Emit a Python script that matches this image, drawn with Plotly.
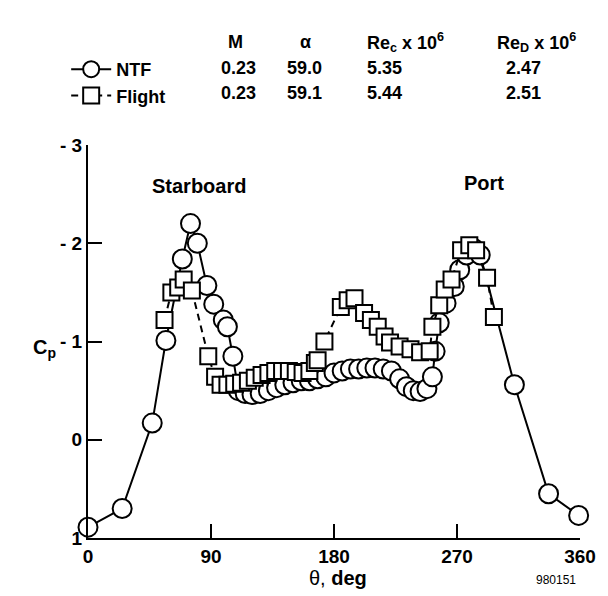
import plotly.graph_objects as go

# NTF (circles, solid)
ntf_theta = [0, 25, 47, 57, 69, 75, 80, 87, 92, 99, 102, 106, 110, 115, 120, 126,
             132, 138, 144, 150, 156, 162, 168, 174, 180, 186, 192, 198, 204, 210,
             216, 222, 228, 233, 238, 243, 248, 252, 254, 257, 262, 268, 272, 277,
             282, 287, 312, 337, 359]
ntf_cp = [0.89, 0.70, -0.17, -1.01, -1.84, -2.20, -2.00, -1.57, -1.38, -1.22, -1.15,
          -0.85, -0.50, -0.47, -0.46, -0.47, -0.50, -0.53, -0.56, -0.58, -0.60, -0.60,
          -0.62, -0.64, -0.68, -0.70, -0.72, -0.72, -0.73, -0.73, -0.72, -0.70, -0.62,
          -0.54, -0.50, -0.49, -0.52, -0.64, -0.90, -1.19, -1.39, -1.56, -1.73, -1.88,
          -1.95, -1.88, -0.56, 0.55, 0.77]

# Flight (squares, dashed)
flt_theta = [56, 61, 66, 70, 76, 88, 93, 97, 102, 107, 112, 117, 122, 127, 132, 137,
             142, 147, 152, 157, 162, 166, 168, 173, 185, 190, 195, 202, 207, 212,
             217, 221, 228, 236, 243, 250, 252, 257, 261, 266, 273, 279, 284, 292, 297]
flt_cp = [-1.22, -1.50, -1.55, -1.63, -1.52, -0.85, -0.64, -0.56, -0.56, -0.57, -0.58,
          -0.60, -0.63, -0.66, -0.68, -0.70, -0.70, -0.70, -0.69, -0.68, -0.70, -0.78,
          -0.81, -1.00, -1.35, -1.42, -1.44, -1.29, -1.22, -1.15, -1.05, -0.99, -0.95,
          -0.92, -0.89, -0.90, -1.15, -1.37, -1.53, -1.63, -1.93, -1.98, -1.93, -1.65,
          -1.25]

col_heads = ["M", "α", "Re<sub>c</sub> x 10<sup>6</sup>", "Re<sub>D</sub> x 10<sup>6</sup>"]
ntf_vals = ["0.23", "59.0", "5.35", "2.47"]
flt_vals = ["0.23", "59.1", "5.44", "2.51"]

FONT = "Liberation Sans, Arial, sans-serif"

# page pixel -> paper (plot area is 88..584 across, 145..538 down)
def px(x):
    return (x - 88) / 496

def py(y):
    return (538 - y) / 393

fig = go.Figure()

fig.add_trace(go.Scatter(
    x=ntf_theta, y=ntf_cp, name="NTF", mode="lines+markers",
    line=dict(color="black", width=2),
    marker=dict(symbol="circle", size=19, color="white",
                line=dict(color="black", width=2)),
    cliponaxis=False,
))
fig.add_trace(go.Scatter(
    x=flt_theta, y=flt_cp, name="Flight", mode="lines+markers",
    line=dict(color="black", width=2, dash="7px,5px"),
    marker=dict(symbol="square", size=16, color="white",
                line=dict(color="black", width=2)),
    cliponaxis=False,
))

ann = []
head_x = [237, 307, 408, 540]
val_x = [240, 306, 387, 527]
for i, h in enumerate(col_heads):
    ann.append(dict(x=px(head_x[i]), y=py(42), text=h, size=18))
    ann.append(dict(x=px(val_x[i]), y=py(68), text=ntf_vals[i], size=18))
    ann.append(dict(x=px(val_x[i]), y=py(93), text=flt_vals[i], size=18))
ann.append(dict(x=px(200), y=py(186), text="Starboard", size=20))
ann.append(dict(x=px(487), y=py(183), text="Port", size=20))
ann.append(dict(x=px(44), y=py(348), text="C<sub>p</sub>", size=20))
for a in ann:
    s = a.pop("size")
    a.update(xref="paper", yref="paper", showarrow=False,
             xanchor="center", yanchor="middle",
             font=dict(family=FONT, size=s, color="black", weight="bold"))
ann.append(dict(x=px(340), y=py(578), xref="paper", yref="paper", showarrow=False,
                xanchor="center", yanchor="middle",
                text="θ, <b>deg</b>", font=dict(family=FONT, size=20, color="black")))
ann.append(dict(x=px(560), y=py(580), xref="paper", yref="paper", showarrow=False,
                xanchor="center", yanchor="middle",
                text="980151", font=dict(family=FONT, size=12, color="black")))

# page body has an 8px margin, so the figure is 600x588 and margins are shifted
fig.update_layout(
    width=600, height=588,
    margin=dict(l=80, r=24, t=137, b=58),
    paper_bgcolor="white", plot_bgcolor="white",
    font=dict(family=FONT, color="black"),
    annotations=ann,
    showlegend=True,
    legend=dict(x=px(66), y=py(51), xanchor="left", yanchor="top",
                bgcolor="rgba(0,0,0,0)", itemwidth=40,
                font=dict(family=FONT, size=18, color="black", weight="bold"),
                tracegroupgap=0),
    xaxis=dict(range=[0, 360], tickvals=[0, 90, 180, 270, 360],
               showline=True, linecolor="black", linewidth=2,
               ticks="inside", ticklen=14, tickwidth=1.5, tickcolor="black",
               showgrid=False, zeroline=False, ticklabelstandoff=0,
               tickfont=dict(family=FONT, size=19, color="black", weight="bold")),
    yaxis=dict(range=[1, -3], tickvals=[-3, -2, -1, 0, 1],
               ticktext=["- 3", "- 2", "- 1", "0", "1"],
               showline=True, linecolor="black", linewidth=2,
               ticks="inside", ticklen=14, tickwidth=1.5, tickcolor="black",
               showgrid=False, zeroline=False,
               tickfont=dict(family=FONT, size=19, color="black", weight="bold")),
)

fig.write_html("out.html")
